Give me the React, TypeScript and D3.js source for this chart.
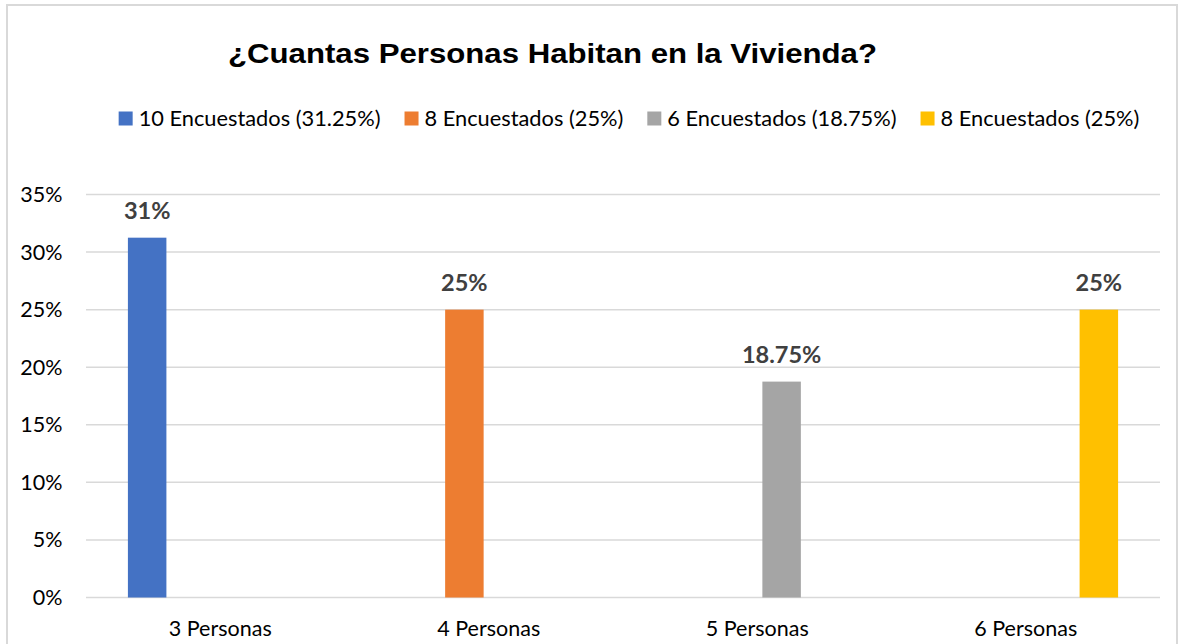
import React from "react";
import * as d3 from "d3";

const categories = ["3 Personas", "4 Personas", "5 Personas", "6 Personas"];
const seriesNames = [
  "10 Encuestados (31.25%)",
  "8 Encuestados (25%)",
  "6 Encuestados (18.75%)",
  "8 Encuestados (25%)",
];
const seriesColors = ["#4472C4", "#ED7D31", "#A5A5A5", "#FFC000"];
// values[series][category]
const series0 = [0.3125, 0, 0, 0];
const series1 = [0, 0.25, 0, 0];
const series2 = [0, 0, 0.1875, 0];
const series3 = [0, 0, 0, 0.25];
const values = [series0, series1, series2, series3];
const valueLabels = ["31%", "25%", "18.75%", "25%"];
const yTicks = [0, 0.05, 0.1, 0.15, 0.2, 0.25, 0.3, 0.35];
const title = "¿Cuantas Personas Habitan en la Vivienda?";

const W = 1183;
const H = 644;
const FONT = "Lato, 'Open Sans', sans-serif";
const LEG_SIZE = 21.8;
const AX_SIZE = 21.5;

function measure(text: string, font: string): number {
  const c = document.createElement("canvas");
  const ctx = c.getContext("2d")!;
  ctx.font = font;
  return ctx.measureText(text).width;
}

export default function App() {
  const plot = { left: 86, right: 1160, top: 194.5, bottom: 597.5 };
  const y = d3.scaleLinear().domain([0, 0.35]).range([plot.bottom, plot.top]);
  const x0 = d3.scaleBand<string>().domain(categories).range([plot.left, plot.right]);
  const x1 = d3
    .scaleBand<number>()
    .domain(d3.range(seriesNames.length))
    .range([0, x0.bandwidth()])
    .paddingInner(0.21)
    .paddingOuter(0.86);
  const fmt = d3.format(".0%");

  // legend layout
  const sq = 14;
  const sqGap = 6;
  const itemGap = 24;
  const widths = seriesNames.map((s) => measure(s, `${LEG_SIZE}px ${FONT}`));
  const itemW = widths.map((w) => sq + sqGap + w);
  const total = d3.sum(itemW) + itemGap * (seriesNames.length - 1);
  const legCenter = 629;
  let cur = legCenter - total / 2;
  const legX = itemW.map((w) => {
    const v = cur;
    cur += w + itemGap;
    return v;
  });
  const legBase = 126;

  return (
    <svg
      width={W}
      height={H}
      style={{ position: "absolute", left: 0, top: 0, background: "#fff" }}
    >
      <rect x={0} y={0} width={W} height={H} fill="#fff" />
      <rect x={7} y={5} width={1170} height={700} fill="#fff" stroke="#d9d9d9" strokeWidth={2} />
      <text
        x={552.5}
        y={63}
        textAnchor="middle"
        fontFamily="'Liberation Sans', Arial, sans-serif"
        fontWeight="bold"
        fontSize={27.5}
        textLength={649}
        lengthAdjust="spacingAndGlyphs"
        fill="#000"
      >
        {title}
      </text>
      {seriesNames.map((s, i) => (
        <g key={i}>
          <rect x={legX[i]} y={legBase - 14.5} width={sq} height={sq} fill={seriesColors[i]} />
          <text x={legX[i] + sq + sqGap} y={legBase} fontFamily={FONT} fontSize={LEG_SIZE} fill="#000">
            {s}
          </text>
        </g>
      ))}
      {yTicks.map((t) => (
        <g key={t}>
          <line
            x1={plot.left}
            x2={plot.right}
            y1={y(t)}
            y2={y(t)}
            stroke="#d9d9d9"
            strokeWidth={1.5}
          />
          <text
            x={62.5}
            y={y(t) + 7.5}
            textAnchor="end"
            fontFamily={FONT}
            fontSize={AX_SIZE}
            fill="#000"
          >
            {fmt(t)}
          </text>
        </g>
      ))}
      {categories.map((c, ci) => (
        <g key={c}>
          {values.map((sv, si) =>
            sv[ci] > 0 ? (
              <g key={si}>
                <rect
                  x={x0(c)! + x1(si)!}
                  y={y(sv[ci])}
                  width={x1.bandwidth()}
                  height={y(0) - y(sv[ci])}
                  fill={seriesColors[si]}
                />
                <text
                  x={x0(c)! + x1(si)! + x1.bandwidth() / 2}
                  y={y(sv[ci]) - 19}
                  textAnchor="middle"
                  fontFamily={FONT}
                  fontWeight="bold"
                  fontSize={23.5}
                  fill="#404040"
                >
                  {valueLabels[si]}
                </text>
              </g>
            ) : null
          )}
          <text
            x={x0(c)! + x0.bandwidth() / 2}
            y={635.5}
            textAnchor="middle"
            fontFamily={FONT}
            fontSize={AX_SIZE}
            fill="#000"
          >
            {c}
          </text>
        </g>
      ))}
    </svg>
  );
}
